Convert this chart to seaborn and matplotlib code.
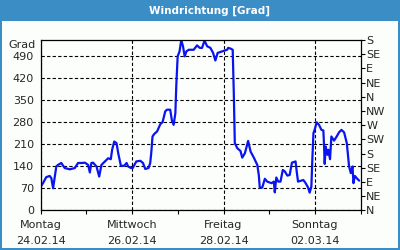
import numpy as np
import pandas as pd
import matplotlib
matplotlib.use("Agg")
import matplotlib.pyplot as plt
import matplotlib.patches as mpatches
import seaborn as sns

# hours since 24.02.14 00:00 and wind direction in degrees
hours = [0.0, 1.2, 2.9, 4.7, 5.6, 6.5, 7.0, 8.2, 9.1, 10.8, 12.6, 15.3, 17.9, 19.6,
         21.4, 23.2, 24.9, 25.8, 26.6, 27.5, 29.3, 30.7, 31.9, 33.7, 35.4, 36.8,
         37.5, 38.6, 39.8, 40.7, 42.1, 43.8, 45.1, 45.9, 47.4, 48.3, 50.2, 52.3,
         53.7, 54.9, 56.6, 57.5, 58.1, 58.7, 59.6, 61.1, 62.8, 64.0, 65.4, 66.3,
         68.0, 68.9, 69.8, 70.7, 71.2, 71.9, 72.9, 73.8, 74.7, 75.6, 76.5, 77.7,
         80.3, 82.1, 83.5, 84.7, 86.0, 87.4, 89.1, 90.5, 91.7, 92.9, 95.3, 97.9,
         98.4, 99.6, 100.8, 101.4, 101.9, 103.2, 104.9, 105.8, 107.2, 108.9, 110.2,
         111.9, 113.7, 114.5, 115.0, 116.3, 117.7, 118.9, 121.2, 122.4, 122.9,
         123.7, 124.7, 125.9, 127.1, 128.2, 129.5, 130.7, 131.9, 133.8, 134.4,
         135.1, 136.8, 137.9, 139.1, 140.3, 141.2, 142.1, 142.6, 143.2, 143.8,
         144.9, 146.1, 147.4, 148.4, 148.7, 149.1, 149.6, 150.5, 151.0, 151.9,
         152.6, 154.0, 155.4, 156.6, 157.9, 159.3, 160.7, 161.9, 162.8, 163.7,
         164.2, 164.9, 165.9, 167.2]
grad = [75, 86, 105, 109, 102, 70, 91, 139, 144, 150, 134, 130, 134, 150,
        150, 151, 144, 120, 150, 151, 139, 107, 144, 155, 165, 162,
        192, 218, 213, 181, 141, 141, 150, 139, 134, 134, 155, 157,
        150, 131, 134, 150, 186, 234, 242, 250, 273, 280, 314, 319,
        319, 284, 271, 308, 398, 488, 504, 540, 520, 488, 504, 509,
        509, 523, 515, 515, 538, 520, 515, 499, 475, 499, 504, 509,
        515, 513, 509, 366, 213, 197, 188, 167, 181, 220, 186,
        167, 144, 112, 72, 72, 100, 91, 86, 91, 57,
        104, 91, 91, 128, 123, 110, 112, 151, 155, 123,
        91, 94, 96, 86, 73, 56, 75, 160, 245, 255,
        279, 271, 255, 253, 213, 147, 202, 176, 192, 162,
        234, 221, 234, 247, 255, 247, 213, 139, 118, 139,
        86, 109, 102, 94]

tick_dates = ["2014-02-24", "2014-02-26", "2014-02-28", "2014-03-02"]
tick_labels = ["Montag\n24.02.14", "Mittwoch\n26.02.14", "Freitag\n28.02.14", "Sonntag\n02.03.14"]
left_ticks = [0, 70, 140, 210, 280, 350, 420, 490]
compass = ["N", "NE", "E", "SE", "S", "SW", "W", "NW", "N", "NE", "E", "SE", "S"]

start = pd.Timestamp("2014-02-24")
df = pd.DataFrame({"zeit": start + pd.to_timedelta(hours, unit="h"), "grad": grad})

BLUE = "#3b8dc6"
sns.set_style("white")
plt.rcParams["font.family"] = ["DejaVu Sans"]
plt.rcParams["font.size"] = 8

fig = plt.figure(figsize=(4, 2.5), dpi=100)
fig.patches.append(mpatches.Rectangle((0, 0), 1, 1, transform=fig.transFigure,
                                      facecolor=BLUE, edgecolor="none", zorder=-3))
fig.patches.append(mpatches.Rectangle((2 / 400, 2 / 250), 396 / 400, 227 / 250,
                                      transform=fig.transFigure,
                                      facecolor="#fcfefc", edgecolor="none", zorder=-2))
fig.text(0.523, 0.958, "Windrichtung [Grad]", color="white", fontweight="bold",
         ha="center", va="center", fontsize=7.5)

ax = fig.add_axes([40.7 / 400, 1 - 210.3 / 250, 320 / 400, 170.3 / 250])
ax.set_facecolor("none")
sns.lineplot(data=df, x="zeit", y="grad", ax=ax, color="#0a14f0", linewidth=1.6)

x1 = start + pd.Timedelta(days=7)
ax.set_xlim(start, x1)
ax.set_ylim(0, 540)
ax.set_xticks(pd.to_datetime(tick_dates))
ax.set_xticklabels(tick_labels, linespacing=1.7)
ax.set_xticks(pd.date_range(start, x1, freq="D"), minor=True)
ax.set_yticks(left_ticks)
ax.set_xlabel("")
ax.set_ylabel("")
ax.tick_params(axis="x", which="both", direction="out", length=3, width=0.8,
               color="black", pad=4, bottom=True)
ax.tick_params(axis="y", length=0, pad=5)
ax.grid(True, axis="y", color="black", linestyle=(0, (3, 2)), linewidth=0.8)
ax.grid(True, axis="x", which="major", color="black", linestyle=(0, (3, 2)), linewidth=0.8)
for s in ax.spines.values():
    s.set_color("black")
    s.set_linewidth(0.9)
ax.text(-0.017, 1.0, "Grad", transform=ax.transAxes, ha="right", va="top")

ax2 = ax.twinx()
ax2.set_ylim(0, 540)
ax2.set_yticks(np.arange(0, 541, 45))
ax2.set_yticklabels(compass)
ax2.tick_params(axis="y", direction="out", length=3, width=0.8, color="black", pad=1)
for s in ax2.spines.values():
    s.set_visible(False)

fig.savefig("out.png", dpi=100)
